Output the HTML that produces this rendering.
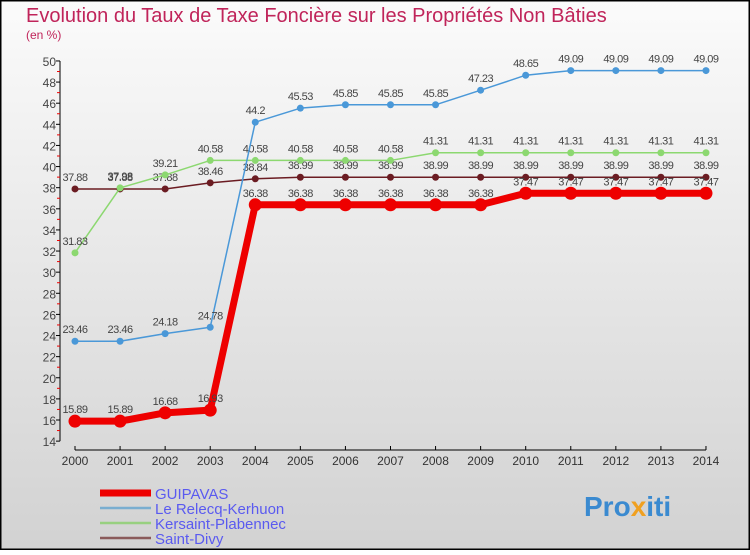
<!DOCTYPE html>
<html><head><meta charset="utf-8"><style>
html,body{margin:0;padding:0}
body{width:750px;height:550px;overflow:hidden;font-family:"Liberation Sans",sans-serif}
</style></head><body>
<svg id="chart" width="750" height="550" xmlns="http://www.w3.org/2000/svg">
<defs><linearGradient id="bg" x1="0" y1="0" x2="0" y2="1"><stop offset="0" stop-color="#fbfbfb"/><stop offset="1" stop-color="#d2d2d2"/></linearGradient></defs>
<rect x="0.5" y="0.5" width="749" height="549" fill="url(#bg)" stroke="#000" stroke-width="2"/>
<text x="26" y="22" font-size="20" fill="#c0245a">Evolution du Taux de Taxe Foncière sur les Propriétés Non Bâties</text>
<text x="26" y="39" font-size="12" fill="#c0245a">(en %)</text>
<g id="axes"></g><g id="series"></g><g id="legend"></g>
<g font-size="28" font-weight="bold">
<text x="584" y="516" fill="#3a8ad0">Pro<tspan fill="#f0a020">x</tspan>iti</text>
</g>
</svg>
<script>
const years=[2000,2001,2002,2003,2004,2005,2006,2007,2008,2009,2010,2011,2012,2013,2014];
const guipavas=[15.89,15.89,16.68,16.93,36.38,36.38,36.38,36.38,36.38,36.38,37.47,37.47,37.47,37.47,37.47];
const relecq=[23.46,23.46,24.18,24.78,44.2,45.53,45.85,45.85,45.85,47.23,48.65,49.09,49.09,49.09,49.09];
const kersaint=[31.83,37.98,39.21,40.58,40.58,40.58,40.58,40.58,41.31,41.31,41.31,41.31,41.31,41.31,41.31];
const divy=[37.88,37.88,37.88,38.46,38.84,38.99,38.99,38.99,38.99,38.99,38.99,38.99,38.99,38.99,38.99];
const yTicks=[14,16,18,20,22,24,26,28,30,32,34,36,38,40,42,44,46,48,50];
const NS="http://www.w3.org/2000/svg";
const X=i=>75+i*45.07;
const Y=v=>420-(v-16)*10.56;
function mk(tag,attrs,parent,txt){const e=document.createElementNS(NS,tag);for(const k in attrs)e.setAttribute(k,attrs[k]);if(txt!==undefined)e.textContent=txt;parent.appendChild(e);return e;}
const axes=document.getElementById('axes');
let e=mk('line',{x1:60,y1:Y(50),x2:60,y2:Y(14),stroke:'#000'},axes);


yTicks.forEach(t=>{
 mk('line',{x1:56,x2:60,y1:Y(t),y2:Y(t),stroke:'#000'},axes);
 if(t<50)mk('line',{x1:57,x2:60,y1:Y(t+1),y2:Y(t+1),stroke:'#e00'},axes);
 const l=mk('text',{x:56,y:Y(t)+5,'font-size':12,'text-anchor':'end',fill:'#444'},axes,t);
 
 
});
e=mk('line',{x1:X(0),y1:450,x2:X(14),y2:450,stroke:'#000'},axes);


years.forEach((y,i)=>{
 mk('line',{x1:X(i),x2:X(i),y1:446,y2:450,stroke:'#000'},axes);
 const l=mk('text',{x:X(i),y:465,'font-size':12,'text-anchor':'middle',fill:'#333'},axes,y);
 
 
});
const sg=document.getElementById('series');
function series(vals,color,w,r,name){
 const g=mk('g',{},sg);
 
 
 mk('polyline',{points:vals.map((v,i)=>X(i)+','+Y(v)).join(' '),fill:'none',stroke:color,'stroke-width':w,'stroke-linejoin':'round'},g);
 vals.forEach((v,i)=>{
  const c=mk('circle',{cx:X(i),cy:Y(v),r:r,fill:color},g);
  
  
  mk('text',{x:X(i),y:Y(v)-8,'font-size':11,'text-anchor':'middle',fill:'#444','letter-spacing':'-0.5'},g,String(v));
 });
}
series(divy,'#6b1c22',1.5,3.5,'series-saint-divy');
series(kersaint,'#8cd870',1.5,3.5,'series-kersaint-plabennec');
series(relecq,'#4a98d8',1.5,3.5,'series-le-relecq-kerhuon');
series(guipavas,'#ee0000',7,6.5,'series-guipavas');
const lg=document.getElementById('legend');
const items=[['GUIPAVAS','#ee0000',7],['Le Relecq-Kerhuon','#7aaed0',2.5],['Kersaint-Plabennec','#98d080',2.5],['Saint-Divy','#8a5a5a',2.5]];
items.forEach((it,i)=>{
 const g=mk('g',{},lg);
 
 
 const y=493+i*15;
 mk('line',{x1:100,x2:151,y1:y,y2:y,stroke:it[1],'stroke-width':it[2]},g);
 mk('text',{x:155,y:y+6,'font-size':15,fill:'#5a5af0'},g,it[0]);
});
</script>
</body></html>
